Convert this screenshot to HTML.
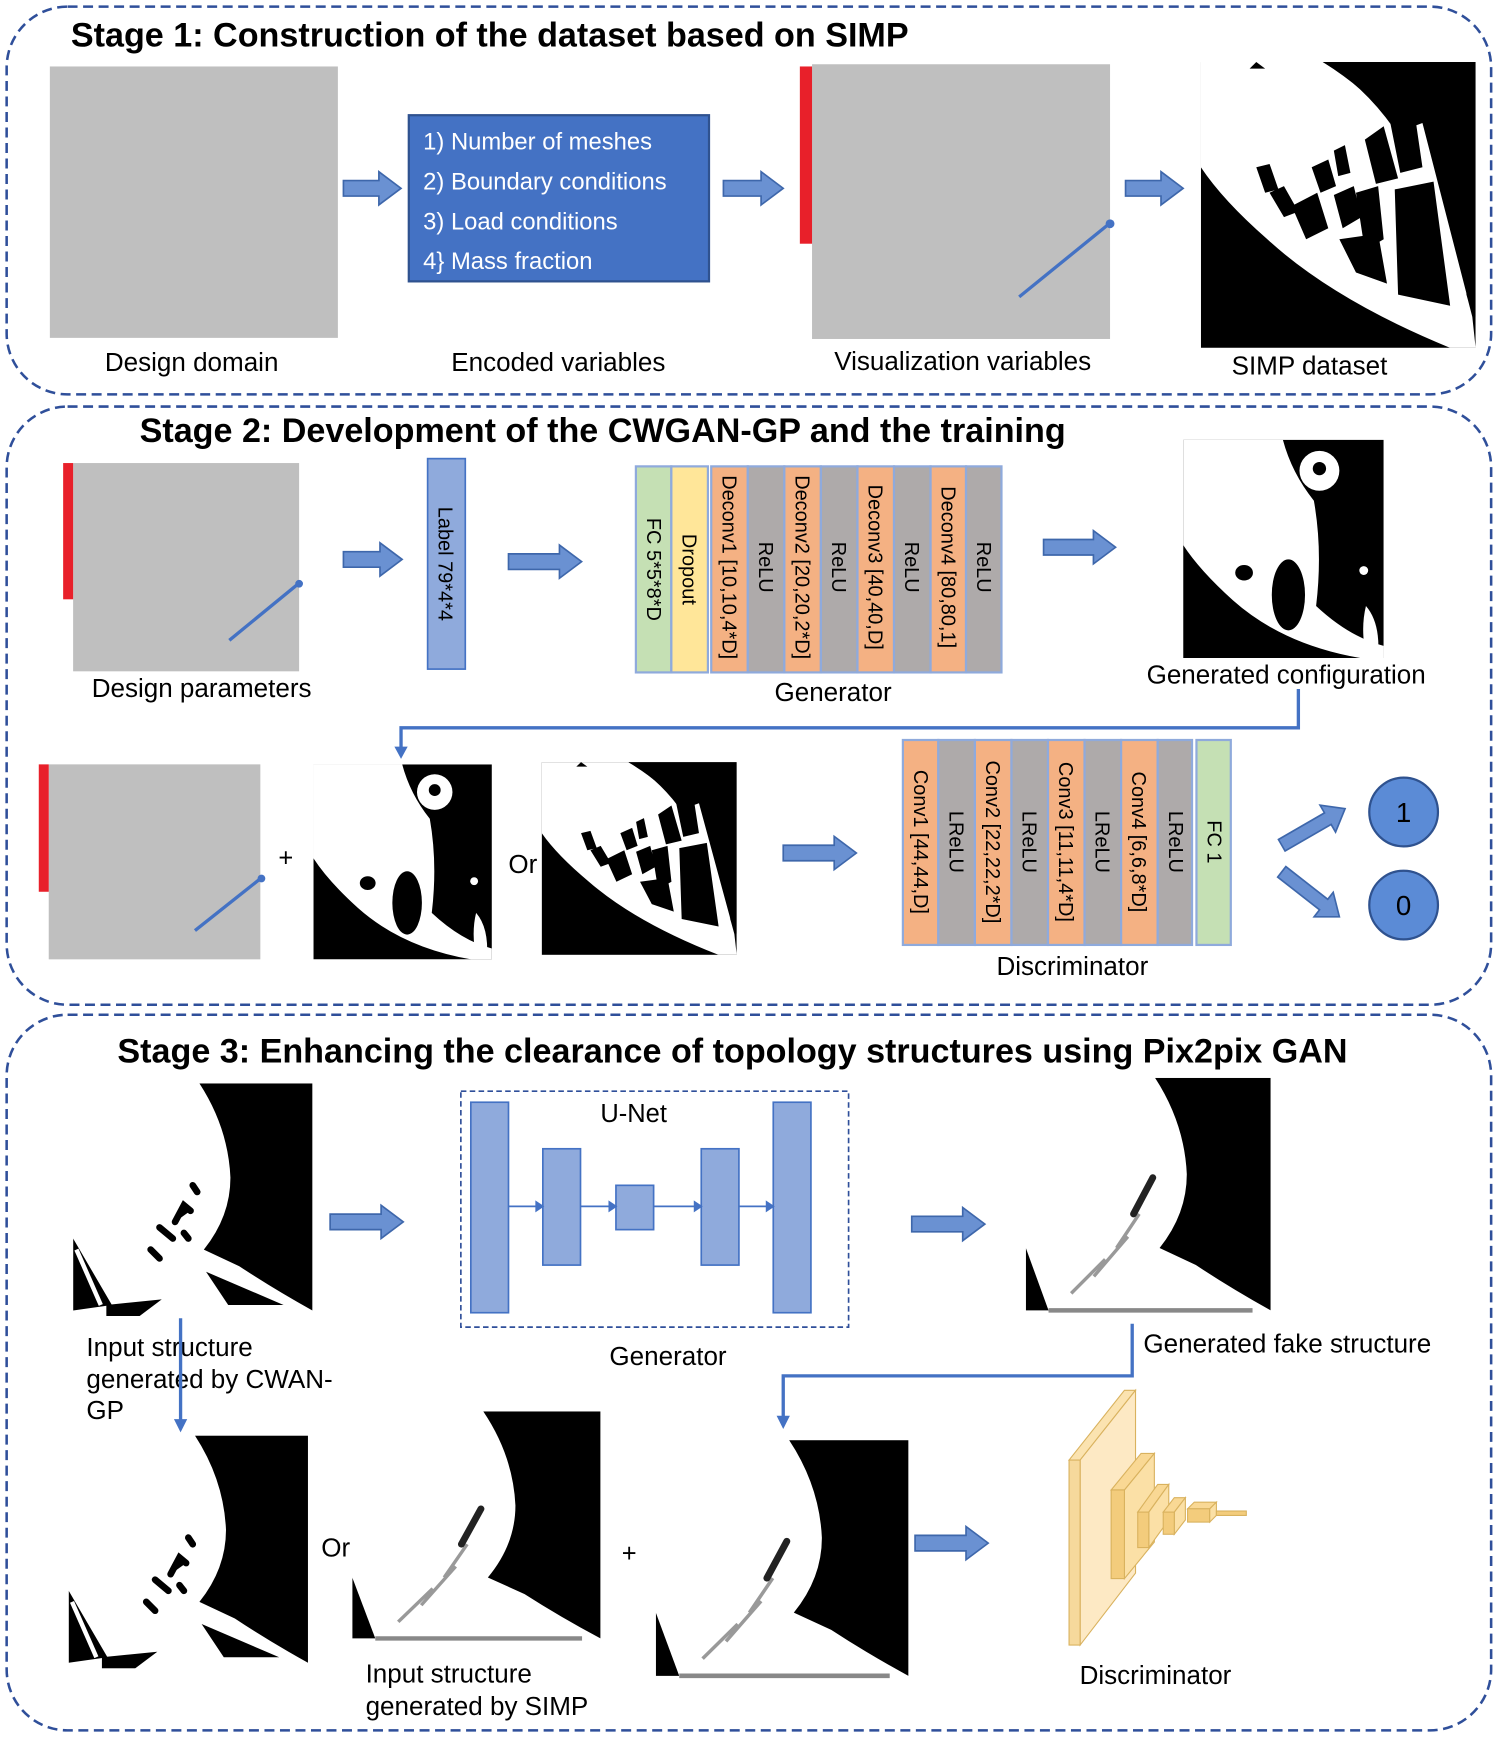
<!DOCTYPE html>
<html><head><meta charset="utf-8"><style>
html,body{margin:0;padding:0;background:#fff;}
svg{display:block;}
text{font-family:"Liberation Sans",Arial,sans-serif;}
</style></head><body>
<svg width="1500" height="1737" viewBox="0 0 1354 1568" preserveAspectRatio="none" xmlns="http://www.w3.org/2000/svg">
<defs>
<symbol id="gen" viewBox="0 0 181 197" preserveAspectRatio="none">
<rect width="181" height="197" fill="#000"/>
<path d="M0,0 L90,0 Q98,30 118,55 Q126,100 120,150 Q150,178 181,186 L181,197 L160,197 Q90,185 45,145 Q15,118 0,95 Z" fill="#fff"/>
<ellipse cx="95" cy="140" rx="15" ry="32" fill="#000"/>
<ellipse cx="55" cy="120" rx="8" ry="7" fill="#000"/>
<circle cx="123" cy="28" r="18" fill="#fff"/><circle cx="123" cy="26" r="6" fill="#000"/>
<path d="M165,150 Q178,165 176,195 L165,195 Q160,170 165,150Z" fill="#fff"/>
<circle cx="163" cy="118" r="4" fill="#fff"/>
</symbol>
<symbol id="simp" viewBox="0 0 248 258" preserveAspectRatio="none">
<rect width="248" height="258" fill="#000"/>
<path d="M0,0 L110,0 Q200,50 245,230 L248,258 L225,258 Q120,215 60,160 Q20,125 0,95Z" fill="#fff"/>
<path d="M110,0 L248,0 L248,230 Q225,120 180,60 Q150,25 110,0Z" fill="#000"/>
<path d="M200,55 L240,210 Q235,200 160,70Z" fill="#fff"/>
<path d="M50,95 L62,92 L70,115 L58,118Z M62,118 L75,112 L88,135 L75,140Z M82,130 L105,118 L115,150 L95,160Z M100,95 L115,88 L122,112 L108,118Z M120,80 L130,75 L135,100 L124,103Z M120,120 L138,112 L145,140 L128,150Z M148,70 L165,58 L178,105 L158,110Z M140,118 L160,112 L165,160 L148,170Z M125,160 L160,155 L168,200 L140,190Z M175,115 L210,108 L225,220 L178,210Z M170,50 L192,40 L200,95 L180,100Z" fill="#000"/>
<path d="M50,0 L58,6 L44,6Z" fill="#000"/>
</symbol>
<symbol id="s3" viewBox="0 0 216 210" preserveAspectRatio="none">
<rect width="216" height="210" fill="#fff"/>
<path d="M114,0 L216,0 L216,205 Q180,185 150,165 L118,150 Q142,120 142,85 Q140,40 114,0Z" fill="#000"/>
<path d="M0,140 L35,200 L0,205Z" fill="#000"/>
<path d="M3,150 L25,200" stroke="#fff" stroke-width="4"/>
<path d="M120,170 L190,200 L140,200Z" fill="#000"/>
<path d="M108,92 L112,98 M92,125 L100,110 L106,115 M70,150 L78,158 M78,130 L90,140 M100,135 L104,140" stroke="#000" stroke-width="6" stroke-linecap="round"/>
<path d="M30,200 L80,195 L60,210 L30,210Z" fill="#000"/>
</symbol>
<symbol id="s3b" viewBox="0 0 216 210" preserveAspectRatio="none">
<rect width="216" height="210" fill="#fff"/>
<path d="M114,0 L216,0 L216,205 Q180,185 150,165 L118,150 Q142,120 142,85 Q140,40 114,0Z" fill="#000"/>
<path d="M0,150 L20,205 L0,205Z" fill="#000"/>
<path d="M60,175 L90,140 M80,150 L100,120 M40,190 L70,160" stroke="#999" stroke-width="3"/>
<path d="M95,120 L112,88" stroke="#222" stroke-width="6" stroke-linecap="round"/>
<path d="M20,205 L200,205" stroke="#888" stroke-width="4"/>
</symbol>
</defs>

<g fill="none" stroke="#2f4f9a" stroke-width="2.3" stroke-dasharray="9,5">
<rect x="6" y="6" width="1340" height="350" rx="55"/>
<rect x="6" y="367" width="1340" height="540" rx="55"/>
<rect x="6" y="916" width="1340" height="646" rx="55"/>
</g>

<g font-weight="bold" font-size="30.8" fill="#000">
<text x="64" y="42">Stage 1: Construction of the dataset based on SIMP</text>
<text x="126" y="399">Stage 2: Development of the CWGAN-GP and the training</text>
<text x="106" y="959">Stage 3: Enhancing the clearance of topology structures using Pix2pix GAN</text>
</g>

<g fill="#6a91d2" stroke="#3e67ab" stroke-width="1.5">
<polygon points="310,163 342,163 342,155 362,170 342,185 342,177 310,177"/>
<polygon points="653,163 687,163 687,155 707,170 687,185 687,177 653,177"/>
<polygon points="1016,163 1048,163 1048,155 1068,170 1048,185 1048,177 1016,177"/>
<polygon points="310,498 343,498 343,490 363,505 343,520 343,512 310,512"/>
<polygon points="459,500 505,500 505,492 525,507 505,522 505,514 459,514"/>
<polygon points="942,487 987,487 987,479 1007,494 987,509 987,501 942,501"/>
<polygon points="707,763 753,763 753,755 773,770 753,785 753,777 707,777"/>
<polygon points="298,1096 344,1096 344,1088 364,1103 344,1118 344,1110 298,1110"/>
<polygon points="823,1098 869,1098 869,1090 889,1105 869,1120 869,1112 823,1112"/>
<polygon points="826,1386 872,1386 872,1378 892,1393 872,1408 872,1400 826,1400"/>
<g transform="translate(1157,763) rotate(-30)"><polygon points="0,-6 48,-6 48,-14 66,0 48,14 48,6 0,6"/></g>
<g transform="translate(1157,787) rotate(38)"><polygon points="0,-6 48,-6 48,-14 66,0 48,14 48,6 0,6"/></g>
</g>

<rect x="45" y="60" width="260" height="245" fill="#bfbfbf"/>
<rect x="369" y="104" width="271" height="150" fill="#4472c4" stroke="#2f528f" stroke-width="2"/>
<g fill="#fff" font-size="21.5">
<text x="382" y="135">1) Number of meshes</text>
<text x="382" y="171">2) Boundary conditions</text>
<text x="382" y="207">3) Load conditions</text>
<text x="382" y="243">4} Mass fraction</text>
</g>
<rect x="733" y="58" width="269" height="248" fill="#bfbfbf"/>
<rect x="722" y="60" width="11" height="160" fill="#e8202a"/>
<line x1="920" y1="268" x2="1000" y2="203" stroke="#4472c4" stroke-width="3"/>
<circle cx="1002" cy="202" r="4" fill="#4472c4"/>
<use href="#simp" x="1084" y="56" width="248" height="258"/>
<g font-size="23.5" text-anchor="middle">
<text x="173" y="335">Design domain</text>
<text x="504" y="335">Encoded variables</text>
<text x="869" y="334">Visualization variables</text>
<text x="1182" y="338">SIMP dataset</text>
</g>

<rect x="66" y="418" width="204" height="188" fill="#bfbfbf"/>
<rect x="57" y="418" width="9" height="123" fill="#e8202a"/>
<line x1="207" y1="578" x2="268" y2="528" stroke="#4472c4" stroke-width="3"/>
<circle cx="270" cy="527" r="3.5" fill="#4472c4"/>
<text x="182" y="629" font-size="23.5" text-anchor="middle">Design parameters</text>
<rect x="386" y="414" width="34" height="190" fill="#8faadc" stroke="#4472c4" stroke-width="1.5"/>
<text transform="translate(396,509) rotate(90)" font-size="18" text-anchor="middle">Label 79*4*4</text>

<g stroke="#8faadc" stroke-width="2">
<rect x="574" y="421" width="32" height="186" fill="#c5e0b4"/>
<rect x="606" y="421" width="33" height="186" fill="#ffe699"/>
<rect x="642" y="421" width="33" height="186" fill="#f4b183"/>
<rect x="675" y="421" width="33" height="186" fill="#aeaaaa"/>
<rect x="708" y="421" width="33" height="186" fill="#f4b183"/>
<rect x="741" y="421" width="33" height="186" fill="#aeaaaa"/>
<rect x="774" y="421" width="33" height="186" fill="#f4b183"/>
<rect x="807" y="421" width="33" height="186" fill="#aeaaaa"/>
<rect x="840" y="421" width="32" height="186" fill="#f4b183"/>
<rect x="872" y="421" width="32" height="186" fill="#aeaaaa"/>
</g>
<g font-size="18" text-anchor="middle">
<text transform="translate(584,514) rotate(90)">FC 5*5*8*D</text>
<text transform="translate(616,514) rotate(90)">Dropout</text>
<text transform="translate(652,512) rotate(90)">Deconv1 [10,10,4*D]</text>
<text transform="translate(685,512) rotate(90)">ReLU</text>
<text transform="translate(718,512) rotate(90)">Deconv2 [20,20,2*D]</text>
<text transform="translate(751,512) rotate(90)">ReLU</text>
<text transform="translate(784,512) rotate(90)">Deconv3 [40,40,D]</text>
<text transform="translate(817,512) rotate(90)">ReLU</text>
<text transform="translate(850,512) rotate(90)">Deconv4 [80,80,1]</text>
<text transform="translate(882,512) rotate(90)">ReLU</text>
</g>
<text x="752" y="633" font-size="23.5" text-anchor="middle">Generator</text>
<use href="#gen" x="1068" y="397" width="181" height="197"/>
<text x="1161" y="617" font-size="23.5" text-anchor="middle">Generated configuration</text>
<polyline points="1172,622 1172,657 362,657 362,676" fill="none" stroke="#4472c4" stroke-width="3"/>
<polygon points="356,674 368,674 362,685" fill="#4472c4"/>

<rect x="44" y="690" width="191" height="176" fill="#bfbfbf"/>
<rect x="35" y="690" width="9" height="115" fill="#e8202a"/>
<line x1="176" y1="840" x2="234" y2="794" stroke="#4472c4" stroke-width="3"/>
<circle cx="236" cy="793" r="3.5" fill="#4472c4"/>
<text x="258" y="782" font-size="23" text-anchor="middle">+</text>
<use href="#gen" x="283" y="690" width="161" height="176"/>
<text x="472" y="788" font-size="23.5" text-anchor="middle">Or</text>
<use href="#simp" x="489" y="688" width="176" height="174"/>

<g stroke="#8faadc" stroke-width="2">
<rect x="815" y="668" width="32" height="185" fill="#f4b183"/>
<rect x="847" y="668" width="33" height="185" fill="#aeaaaa"/>
<rect x="880" y="668" width="33" height="185" fill="#f4b183"/>
<rect x="913" y="668" width="33" height="185" fill="#aeaaaa"/>
<rect x="946" y="668" width="33" height="185" fill="#f4b183"/>
<rect x="979" y="668" width="33" height="185" fill="#aeaaaa"/>
<rect x="1012" y="668" width="33" height="185" fill="#f4b183"/>
<rect x="1045" y="668" width="31" height="185" fill="#aeaaaa"/>
<rect x="1080" y="668" width="31" height="185" fill="#c5e0b4"/>
</g>
<g font-size="18" text-anchor="middle">
<text transform="translate(825,760) rotate(90)">Conv1 [44,44,D]</text>
<text transform="translate(857,760) rotate(90)">LReLU</text>
<text transform="translate(890,760) rotate(90)">Conv2 [22,22,2*D]</text>
<text transform="translate(923,760) rotate(90)">LReLU</text>
<text transform="translate(956,760) rotate(90)">Conv3 [11,11,4*D]</text>
<text transform="translate(989,760) rotate(90)">LReLU</text>
<text transform="translate(1022,760) rotate(90)">Conv4 [6,6,8*D]</text>
<text transform="translate(1055,760) rotate(90)">LReLU</text>
<text transform="translate(1090,760) rotate(90)">FC 1</text>
</g>
<text x="968" y="880" font-size="23.5" text-anchor="middle">Discriminator</text>
<circle cx="1267" cy="733" r="31" fill="#5b8bd6" stroke="#2f528f" stroke-width="2"/>
<circle cx="1267" cy="817" r="31" fill="#5b8bd6" stroke="#2f528f" stroke-width="2"/>
<text x="1267" y="742" font-size="25" text-anchor="middle">1</text>
<text x="1267" y="826" font-size="25" text-anchor="middle">0</text>

<use href="#s3" x="66" y="978" width="216" height="210"/>
<g font-size="23.5">
<text x="78" y="1224">Input structure</text>
<text x="78" y="1253">generated by CWAN-</text>
<text x="78" y="1281">GP</text>
</g>
<line x1="163" y1="1190" x2="163" y2="1283" stroke="#4472c4" stroke-width="3"/>
<polygon points="157,1281 169,1281 163,1293" fill="#4472c4"/>

<rect x="416" y="985" width="350" height="213" fill="none" stroke="#2f4f9a" stroke-width="1.5" stroke-dasharray="5,3"/>
<text x="572" y="1013" font-size="23" text-anchor="middle">U-Net</text>
<g fill="#8faadc" stroke="#4472c4" stroke-width="1.5">
<rect x="425" y="995" width="34" height="190"/>
<rect x="490" y="1037" width="34" height="105"/>
<rect x="556" y="1070" width="34" height="40"/>
<rect x="633" y="1037" width="34" height="105"/>
<rect x="698" y="995" width="34" height="190"/>
</g>
<g stroke="#4472c4" stroke-width="1.5" fill="#4472c4">
<line x1="459" y1="1089" x2="484" y2="1089"/><polygon points="484,1085 490,1089 484,1093"/>
<line x1="524" y1="1089" x2="550" y2="1089"/><polygon points="550,1085 556,1089 550,1093"/>
<line x1="590" y1="1089" x2="627" y2="1089"/><polygon points="627,1085 633,1089 627,1093"/>
<line x1="667" y1="1089" x2="692" y2="1089"/><polygon points="692,1085 698,1089 692,1093"/>
</g>
<text x="603" y="1232" font-size="23.5" text-anchor="middle">Generator</text>
<use href="#s3b" x="926" y="973" width="221" height="215"/>
<text x="1162" y="1221" font-size="23.5" text-anchor="middle">Generated fake structure</text>
<polyline points="1022,1195 1022,1242 707,1242 707,1280" fill="none" stroke="#4472c4" stroke-width="3"/>
<polygon points="701,1278 713,1278 707,1290" fill="#4472c4"/>

<use href="#s3" x="62" y="1296" width="216" height="210"/>
<text x="303" y="1405" font-size="23.5" text-anchor="middle">Or</text>
<use href="#s3b" x="318" y="1274" width="224" height="210"/>
<g font-size="23.5">
<text x="330" y="1519">Input structure</text>
<text x="330" y="1548">generated by SIMP</text>
</g>
<text x="568" y="1410" font-size="23" text-anchor="middle">+</text>
<use href="#s3b" x="592" y="1300" width="228" height="218"/>

<g stroke="#d9b25e" stroke-width="1">
<polygon points="965,1318 1015,1255 1025,1255 975,1318" fill="#fbe3b0"/>
<polygon points="975,1318 1025,1255 1025,1420 975,1485" fill="#fde9c4"/>
<rect x="965" y="1318" width="10" height="167" fill="#f6d99c"/>
<polygon points="1003,1345 1030,1312 1042,1312 1015,1345" fill="#f9d894"/>
<polygon points="1015,1345 1042,1312 1042,1392 1015,1425" fill="#fbe0a6"/>
<rect x="1003" y="1345" width="12" height="80" fill="#f3cc7c"/>
<polygon points="1027,1365 1045,1340 1055,1340 1037,1365" fill="#f9d894"/>
<polygon points="1037,1365 1055,1340 1055,1372 1037,1397" fill="#fbe0a6"/>
<rect x="1027" y="1365" width="10" height="32" fill="#f3cc7c"/>
<polygon points="1050,1365 1060,1352 1070,1352 1060,1365" fill="#f9d894"/>
<polygon points="1060,1365 1070,1352 1070,1372 1060,1385" fill="#fbe0a6"/>
<rect x="1050" y="1365" width="10" height="20" fill="#f3cc7c"/>
<polygon points="1072,1362 1078,1356 1098,1356 1092,1362" fill="#f9d894"/>
<rect x="1072" y="1362" width="20" height="12" fill="#f3cc7c"/>
<polygon points="1092,1362 1098,1356 1098,1368 1092,1374" fill="#fbe0a6"/>
<rect x="1098" y="1364" width="27" height="4" fill="#f3cc7c"/>
</g>
<text x="1043" y="1520" font-size="23.5" text-anchor="middle">Discriminator</text>
</svg>
</body></html>
